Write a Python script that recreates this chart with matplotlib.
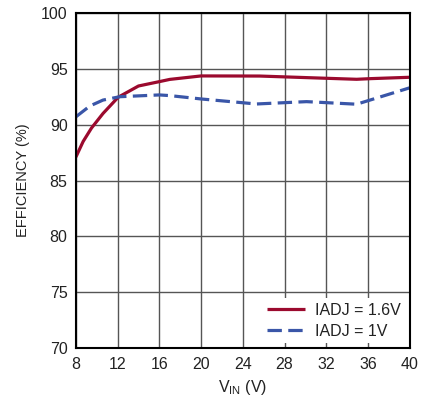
import matplotlib.pyplot as plt

plt.rcParams['font.family'] = ['Liberation Sans', 'DejaVu Sans']
plt.rcParams['mathtext.fontset'] = 'custom'
plt.rcParams['mathtext.rm'] = 'Liberation Sans'

# data
vin_a = [8, 8.7, 9.5, 10.6, 12.05, 14, 16, 17, 20, 25.6, 32, 34.9, 36.3, 40]
eff_a = [87.1, 88.5, 89.7, 91.0, 92.45, 93.46, 93.85, 94.05, 94.36, 94.35, 94.15, 94.06, 94.12, 94.24]
vin_b = [8, 9.34, 10.6, 12.2, 16, 17, 20, 25.3, 30.1, 34.9, 40]
eff_b = [90.7, 91.67, 92.2, 92.5, 92.66, 92.6, 92.3, 91.85, 92.06, 91.83, 93.3]
labels = ['IADJ = 1.6V', 'IADJ = 1V']
xticks = list(range(8, 41, 4))
yticks = list(range(70, 101, 5))

fig = plt.figure(figsize=(4.36, 4.03), dpi=100)
ax = fig.add_axes([0.174, 0.136, 0.766, 0.832])

ax.plot(vin_a, eff_a, color='#9b0a2e', lw=2.3, label=labels[0], solid_capstyle='butt')
ax.plot(vin_b, eff_b, color='#3a56a8', lw=2.3, dashes=(4.5, 2), label=labels[1])

ax.set_xlim(8, 40)
ax.set_ylim(70, 100)
ax.set_xticks(xticks)
ax.set_yticks(yticks)
ax.grid(True, color='#555555', lw=1.0)
ax.set_axisbelow(True)
for s in ax.spines.values():
    s.set_linewidth(1.5)
    s.set_color('black')
ax.tick_params(length=0, pad=6, labelsize=11.5, colors='#222222')
ax.set_xlabel(r'$\mathregular{V_{IN}}$ (V)', fontsize=11.5, color='#222222', labelpad=5)
ax.set_ylabel('EFFICIENCY (%)', fontsize=10.5, color='#222222', labelpad=8)

leg = ax.legend(loc='lower right', frameon=True, fancybox=False, framealpha=1,
                edgecolor='none', fontsize=11.5, handlelength=2.4, handletextpad=0.6,
                borderaxespad=0.3, labelspacing=0.35, borderpad=0.3)
for t in leg.get_texts():
    t.set_color('#222222')

fig.savefig('out.png', dpi=100)
